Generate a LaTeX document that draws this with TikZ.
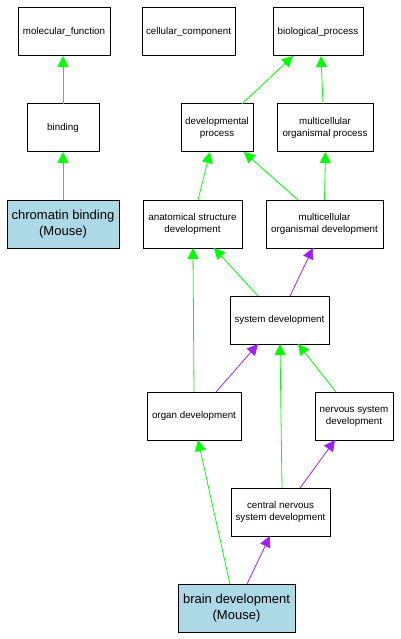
\documentclass[tikz,border=0pt]{standalone}
\usepackage{fontspec}
\setmainfont{Liberation Sans}
\usetikzlibrary{arrows.meta}
\definecolor{egreen}{HTML}{00FF00}
\definecolor{epurple}{HTML}{A020F0}
\definecolor{lblue}{HTML}{ADD8E6}
\tikzset{
  term/.style={draw=black, line width=1pt, fill=white, inner sep=0pt, outer sep=0pt,
    minimum height=48pt, align=center, font=\fontsize{9.8}{12}\selectfont},
  qterm/.style={term, fill=lblue, font=\fontsize{13}{15.5}\selectfont},
  isa/.style={draw=egreen, line width=0.8pt, -{Triangle[length=11pt,width=11pt]}},
  partof/.style={draw=epurple, line width=0.8pt, -{Triangle[length=11pt,width=11pt]}},
}
\begin{document}
\begin{tikzpicture}[x=1pt,y=-1pt]
\useasboundingbox (0,0) rectangle (400,639);
\node[term, minimum width=92pt] (mf) at (64,32) {molecular\_function};
\node[term, minimum width=93pt] (cc) at (188.5,32) {cellular\_component};
\node[term, minimum width=90pt] (bp) at (318,32) {biological\_process};
\node[term, minimum width=72pt] (bind) at (63,128) {binding};
\node[term, minimum width=72pt] (dp) at (217,128) {developmental\\process};
\node[term, minimum width=96pt] (mop) at (325,128) {multicellular\\organismal process};
\node[qterm, minimum width=112pt] (chrom) at (63,224) {chromatin binding\\(Mouse)};
\node[term, minimum width=99pt] (asd) at (192.5,224) {anatomical structure\\development};
\node[term, minimum width=117pt] (mod) at (324.5,224) {multicellular\\organismal development};
\node[term, minimum width=99pt] (sd) at (279.5,320) {system development};
\node[term, minimum width=94pt] (organ) at (194,416) {organ development};
\node[term, minimum width=78pt] (nsd) at (354,416) {nervous system\\development};
\node[term, minimum width=99pt] (cns) at (280.5,512) {central nervous\\system development};
\node[qterm, minimum width=117pt] (brain) at (236.5,608) {brain development\\(Mouse)};

\draw[isa] (bind.north) -- ([xshift=-1pt]mf.south);
\draw[isa] (chrom.north) -- (bind.south);
\draw[isa] ([xshift=25pt]dp.north) -- ([xshift=-25pt]bp.south);
\draw[isa] ([xshift=-2pt]mop.north) -- ([xshift=3pt]bp.south);
\draw[isa] ([xshift=5.5pt]asd.north) -- ([xshift=-7pt]dp.south);
\draw[isa] ([xshift=-26.5pt]mod.north) -- ([xshift=27pt]dp.south);
\draw[isa] (mod.north) -- ([xshift=0.5pt]mop.south);
\draw[isa] ([xshift=-21.5pt]sd.north) -- ([xshift=21.5pt]asd.south);
\draw[partof] ([xshift=10.5pt]sd.north) -- ([xshift=-11.5pt]mod.south);
\draw[isa] (organ.north) -- ([xshift=0.5pt]asd.south);
\draw[partof] ([xshift=22pt]organ.north) -- ([xshift=-21.5pt]sd.south);
\draw[isa] ([xshift=1.5pt]cns.north) -- ([xshift=0.5pt]sd.south);
\draw[isa] ([xshift=-18pt]nsd.north) -- ([xshift=18.5pt]sd.south);
\draw[partof] ([xshift=19.5pt]cns.north) -- ([xshift=-19pt]nsd.south);
\draw[isa] ([xshift=-6.5pt]brain.north) -- ([xshift=4pt]organ.south);
\draw[partof] ([xshift=10.5pt]brain.north) -- ([xshift=-10.5pt]cns.south);
\end{tikzpicture}
\end{document}
